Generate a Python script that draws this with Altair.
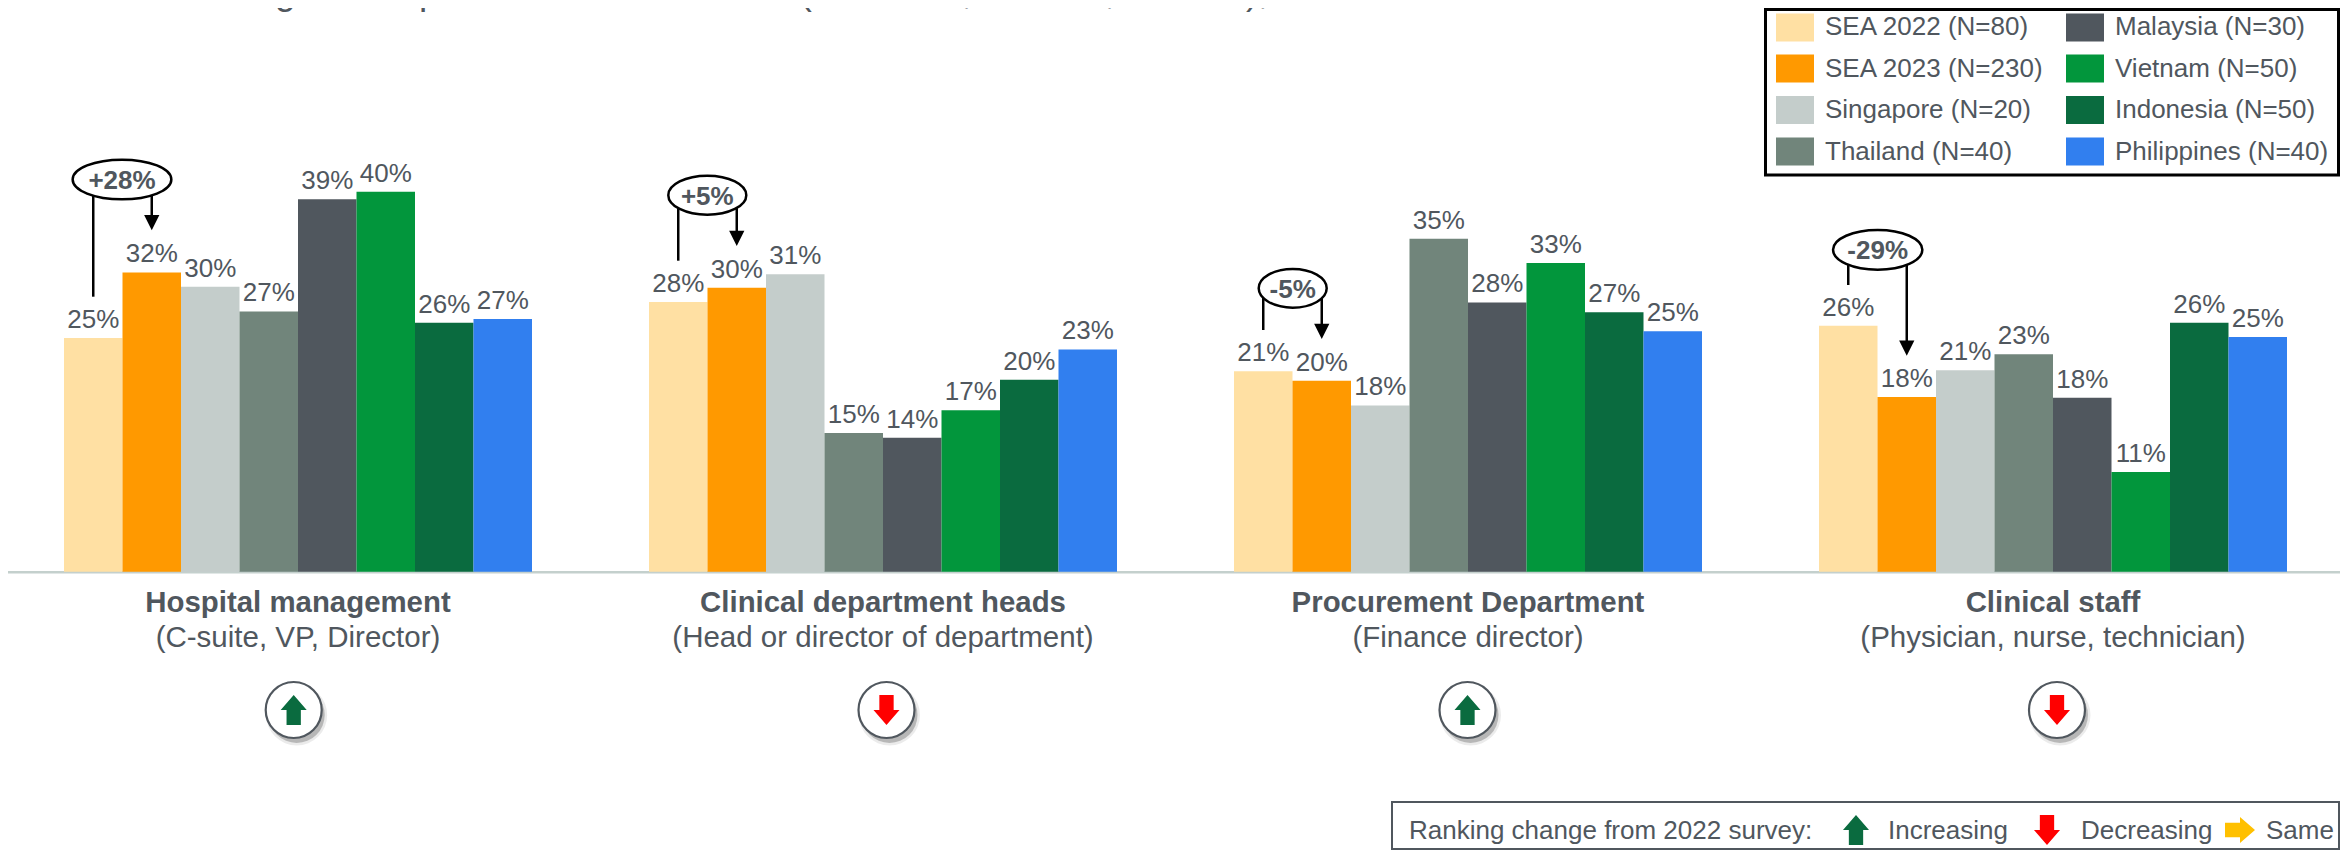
import altair as alt
import pandas as pd

FONT = "Liberation Sans"
GREY = "#50575E"

series = ["SEA 2022 (N=80)", "SEA 2023 (N=230)", "Singapore (N=20)", "Thailand (N=40)",
          "Malaysia (N=30)", "Vietnam (N=50)", "Indonesia (N=50)", "Philippines (N=40)"]
colors = ["#FFE0A3", "#FF9900", "#C4CDCB", "#71857B", "#50575E", "#02963C", "#0A6B3F", "#317FEF"]

groups = ["Hospital management", "Clinical department heads", "Procurement Department", "Clinical staff"]
subtitles = ["(C-suite, VP, Director)", "(Head or director of department)", "(Finance director)",
             "(Physician, nurse, technician)"]

hospital = [24.6, 31.5, 30.0, 27.4, 39.2, 40.0, 26.2, 26.6]
heads = [28.4, 29.9, 31.3, 14.6, 14.1, 17.0, 20.2, 23.4]
procurement = [21.1, 20.1, 17.5, 35.05, 28.35, 32.5, 27.3, 25.3]
clinical = [25.9, 18.4, 21.2, 22.9, 18.3, 10.5, 26.2, 24.7]
values = [hospital, heads, procurement, clinical]

hospital_lbl = [25, 32, 30, 27, 39, 40, 26, 27]
heads_lbl = [28, 30, 31, 15, 14, 17, 20, 23]
procurement_lbl = [21, 20, 18, 35, 28, 33, 27, 25]
clinical_lbl = [26, 18, 21, 23, 18, 11, 26, 25]
labels = [hospital_lbl, heads_lbl, procurement_lbl, clinical_lbl]

changes = ["+28%", "+5%", "-5%", "-29%"]
rank_dir = ["up", "down", "up", "down"]

title_text = "Percentage of respondents who chose 1 (1-7 scale, 1=most, 7=least), 2023"

# page-pixel geometry of the annotations
W, H = 2332, 842
SLOT = 58.5
X0 = 64.0
Y0 = 571.7
PX_PER_PCT = 9.5


def xd(px):
    return (px - X0) / SLOT


def yd(py):
    return (Y0 - py) / PX_PER_PCT


xs = alt.Scale(domain=[xd(8), xd(8 + W)], range=[0, W], nice=False, zero=False)
ys = alt.Scale(domain=[yd(8 + H), yd(8)], range=[H, 0], nice=False, zero=False)


def X(f):
    return alt.X(f + ":Q", scale=xs, axis=None)


def Y(f):
    return alt.Y(f + ":Q", scale=ys, axis=None)


bars = pd.DataFrame([
    {"x": g * 10 + s, "x2": g * 10 + s + 1, "xc": g * 10 + s + 0.5, "v": values[g][s], "zero": 0,
     "series": series[s], "label": f"{labels[g][s]}%"}
    for g in range(4) for s in range(8)
])

bar_layer = alt.Chart(bars).mark_rect().encode(
    x=X("x"), x2="x2:Q", y=Y("v"), y2="zero:Q",
    color=alt.Color(
        "series:N",
        scale=alt.Scale(domain=series, range=colors),
        legend=alt.Legend(
            title=None, orient="none", legendX=1768, legendY=0, columns=2,
            direction="vertical", padding=0, rowPadding=7.5, columnPadding=22,
            symbolType="M-1,-0.737 L1,-0.737 L1,0.737 L-1,0.737 Z", symbolSize=1444,
            symbolStrokeWidth=0, symbolOffset=0, labelOffset=11, labelFontSize=26,
            labelFont=FONT, labelColor=GREY, labelLimit=400,
        ),
    ),
)

bar_text = alt.Chart(bars).mark_text(
    dy=-10, baseline="alphabetic", align="center", font=FONT, fontSize=26, color=GREY
).encode(x=X("xc"), y=Y("v"), text="label:N")

base_df = pd.DataFrame({"a": [xd(8)], "b": [xd(8 + W)], "y": [yd(572.3)]})
baseline = alt.Chart(base_df).mark_rule(color="#C4D0CD", strokeWidth=2.5).encode(
    x=X("a"), x2="b:Q", y=Y("y"))

title_df = pd.DataFrame({"x": [xd(127)], "y": [yd(3.5)], "t": [title_text]})
title = alt.Chart(title_df).mark_text(
    align="left", baseline="alphabetic", font=FONT, fontSize=37, color=GREY
).encode(x=X("x"), y=Y("y"), text="t:N")

legend_box_df = pd.DataFrame({"a": [xd(1765.5)], "b": [xd(2338.5)], "y": [yd(9.5)], "y2": [yd(175)]})
legend_box = alt.Chart(legend_box_df).mark_rect(fill="white", stroke="black", strokeWidth=3).encode(
    x=X("a"), x2="b:Q", y=Y("y"), y2="y2:Q")

# group captions
cap = pd.DataFrame({
    "x": [g * 10 + 4 for g in range(4)],
    "y1": [yd(611.7)] * 4, "y2": [yd(646.7)] * 4,
    "a": groups, "b": subtitles,
})
cap1 = alt.Chart(cap).mark_text(
    font=FONT, fontSize=29.4, fontWeight="bold", color=GREY, baseline="alphabetic"
).encode(x=X("x"), y=Y("y1"), text="a:N")
cap2 = alt.Chart(cap).mark_text(
    font=FONT, fontSize=29.5, color=GREY, baseline="alphabetic"
).encode(x=X("x"), y=Y("y2"), text="b:N")

# change call-outs
ell_cx = [122.0, 707.3, 1292.7, 1877.7]
ell_cy = [179.5, 195.2, 288.3, 249.8]
ell_w = [98.7, 78.0, 68.0, 89.3]
ell_h = [39.7, 39.0, 38.7, 39.7]
left_end = [296.7, 260.7, 330.0, 285.0]
arrow_tip = [230.3, 246.0, 339.0, 355.7]
HEAD = 15.3


def ellipse_path(w, h):
    a = h / w
    k = 0.5523
    return (f"M-1,0 C-1,{-k*a:.4f} {-k:.4f},{-a:.4f} 0,{-a:.4f} "
            f"C{k:.4f},{-a:.4f} 1,{-k*a:.4f} 1,0 "
            f"C1,{k*a:.4f} {k:.4f},{a:.4f} 0,{a:.4f} "
            f"C{-k:.4f},{a:.4f} -1,{k*a:.4f} -1,0 Z")


callout = pd.DataFrame({
    "lx": [g * 10 + 0.5 for g in range(4)],
    "rx": [g * 10 + 1.5 for g in range(4)],
    "ty": [yd(c) for c in ell_cy],
    "ly": [yd(v) for v in left_end],
    "ry": [yd(t - HEAD + 1) for t in arrow_tip],
    "hy": [yd(t - HEAD / 2) for t in arrow_tip],
    "cx": [xd(c) for c in ell_cx],
    "t": changes,
    "tb": [yd(c + 9.3) for c in ell_cy],
})
left_lines = alt.Chart(callout).mark_rule(color="black", strokeWidth=2.5).encode(
    x=X("lx"), y=Y("ty"), y2="ly:Q")
right_lines = alt.Chart(callout).mark_rule(color="black", strokeWidth=2.5).encode(
    x=X("rx"), y=Y("ty"), y2="ry:Q")
heads_pts = alt.Chart(callout).mark_point(
    shape="M-1,-1 L1,-1 L0,1 Z", size=HEAD ** 2, filled=True, fill="black", strokeWidth=0, opacity=1
).encode(x=X("rx"), y=Y("hy"))
ellipses = [
    alt.Chart(callout.iloc[[i]]).mark_point(
        shape=ellipse_path(ell_w[i], ell_h[i]), size=ell_w[i] ** 2, filled=True, fill="white",
        stroke="black", strokeWidth=2.5, opacity=1
    ).encode(x=X("cx"), y=Y("ty"))
    for i in range(4)
]
ell_text = alt.Chart(callout).mark_text(
    font=FONT, fontSize=26, fontWeight="bold", color=GREY, baseline="alphabetic"
).encode(x=X("cx"), y=Y("tb"), text="t:N")

# ranking badges
UP = "M0,-1 L0.867,0 L0.477,0 L0.477,1 L-0.477,1 L-0.477,0 L-0.867,0 Z"
DOWN = "M0,1 L0.867,0 L0.477,0 L0.477,-1 L-0.477,-1 L-0.477,0 L-0.867,0 Z"
RIGHT = "M1,0 L0,0.867 L0,0.477 L-1,0.477 L-1,-0.477 L0,-0.477 L0,-0.867 Z"
GREEN = "#0A6B3F"
RED = "#FF0000"
YELLOW = "#FFC000"
badge_px = [293.7, 886.5, 1467.5, 2057.0]
BADGE_Y = 710.0
CIRCLE = 56 ** 2

badges = pd.DataFrame({
    "x": [xd(p) for p in badge_px], "y": [yd(BADGE_Y)] * 4,
    "sx": [xd(p + 3) for p in badge_px], "sy": [yd(BADGE_Y + 5)] * 4,
    "dir": rank_dir,
})
shadow1 = alt.Chart(badges).mark_point(
    shape="circle", size=61 ** 2, filled=True, fill="#000000", opacity=0.08, strokeWidth=0
).encode(x=X("sx"), y=Y("sy"))
shadow2 = alt.Chart(badges).mark_point(
    shape="circle", size=CIRCLE, filled=True, fill="#000000", opacity=0.22, strokeWidth=0
).encode(x=X("sx"), y=Y("sy"))
circles = alt.Chart(badges).mark_point(
    shape="circle", size=CIRCLE, filled=True, fill="white", stroke=GREY, strokeWidth=2.2, opacity=1
).encode(x=X("x"), y=Y("y"))
up_badges = alt.Chart(badges[badges["dir"] == "up"]).mark_point(
    shape=UP, size=900, filled=True, fill=GREEN, strokeWidth=0, opacity=1
).encode(x=X("x"), y=Y("y"))
down_badges = alt.Chart(badges[badges["dir"] == "down"]).mark_point(
    shape=DOWN, size=900, filled=True, fill=RED, strokeWidth=0, opacity=1
).encode(x=X("x"), y=Y("y"))

# ranking key
key_box_df = pd.DataFrame({"a": [xd(1392)], "b": [xd(2339)], "y": [yd(802)], "y2": [yd(849)]})
key_box = alt.Chart(key_box_df).mark_rect(fill="white", stroke=GREY, strokeWidth=2).encode(
    x=X("a"), x2="b:Q", y=Y("y"), y2="y2:Q")
key_texts = ["Ranking change from 2022 survey:", "Increasing", "Decreasing", "Same"]
key_x = [1409, 1888, 2081, 2266]
key_df = pd.DataFrame({"x": [xd(p) for p in key_x], "y": [yd(838.5)] * 4, "t": key_texts})
key_text = alt.Chart(key_df).mark_text(
    align="left", baseline="alphabetic", font=FONT, fontSize=26, color=GREY
).encode(x=X("x"), y=Y("y"), text="t:N")
key_arrows = []
for px_, path, col, sz in [(1856, UP, GREEN, 900), (2047, DOWN, RED, 900), (2240, RIGHT, YELLOW, 900)]:
    d = pd.DataFrame({"x": [xd(px_)], "y": [yd(830)]})
    key_arrows.append(
        alt.Chart(d).mark_point(shape=path, size=sz, filled=True, fill=col, strokeWidth=0, opacity=1)
        .encode(x=X("x"), y=Y("y"))
    )

chart = alt.layer(
    legend_box, baseline, bar_layer, bar_text, title,
    cap1, cap2,
    left_lines, right_lines, heads_pts, *ellipses, ell_text,
    shadow1, shadow2, circles, up_badges, down_badges,
    key_box, key_text, *key_arrows,
).properties(
    width=W, height=H, padding=0, background="white",
    autosize=alt.AutoSizeParams(type="none"),
).configure_view(stroke=None).configure_legend(
    strokeWidth=0
)

chart.save("out.html", embed_options={"renderer": "svg", "actions": False})
